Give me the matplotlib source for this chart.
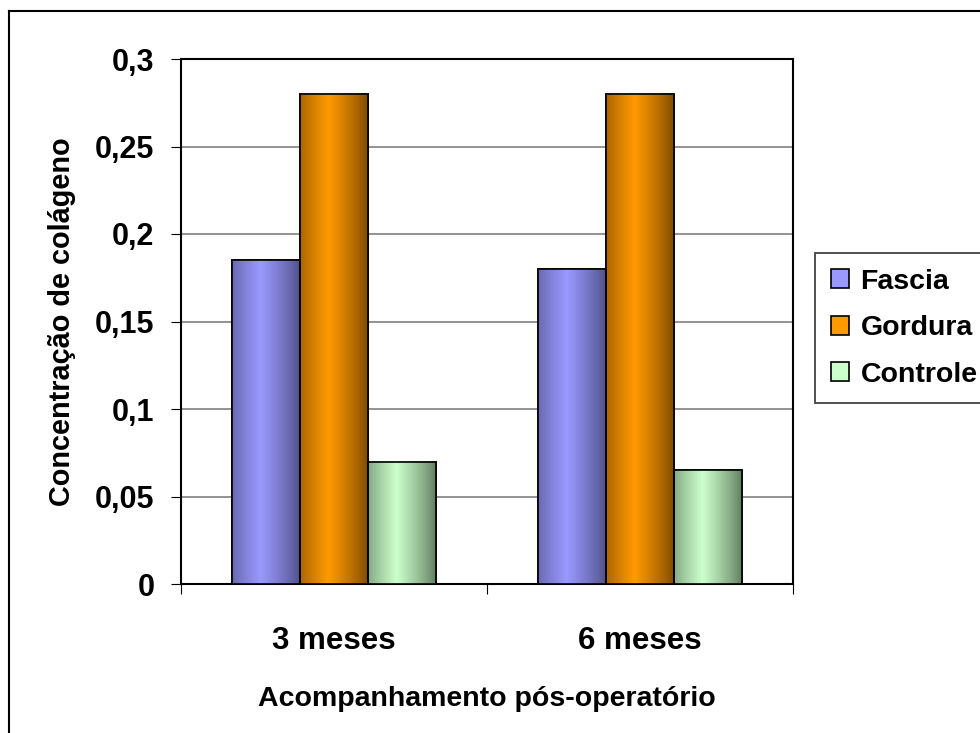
import numpy as np
import matplotlib
matplotlib.use("Agg")
import matplotlib.pyplot as plt
from matplotlib.colors import LinearSegmentedColormap
from matplotlib.patches import Rectangle

categories = ["3 meses", "6 meses"]
series_names = ["Fascia", "Gordura", "Controle"]
fascia = [0.185, 0.18]
gordura = [0.28, 0.28]
controle = [0.07, 0.065]
yticks = [0, 0.05, 0.1, 0.15, 0.2, 0.25, 0.3]
ytick_labels = ["0", "0,05", "0,1", "0,15", "0,2", "0,25", "0,3"]

base_colors = ["#9999FF", "#FF9900", "#CCFFCC"]
dark_colors = ["#4F4F85", "#7A4900", "#5E7A5E"]

plt.rcParams['font.family'] = ['Liberation Sans', 'DejaVu Sans']
plt.rcParams['font.weight'] = 'bold'

fig = plt.figure(figsize=(9.8, 7.33), dpi=100)
W, H = 980, 733
ax = fig.add_axes([181 / W, 1 - 584 / H, (793 - 181) / W, (584 - 59) / H])

# outer chart border (left and top visible)
fig.add_artist(plt.Line2D([9 / W, 9 / W], [0, 1 - 11 / H], transform=fig.transFigure, color="black", lw=1.5))
fig.add_artist(plt.Line2D([9 / W, 1], [1 - 11 / H, 1 - 11 / H], transform=fig.transFigure, color="black", lw=1.5))

x = np.arange(len(categories))
width = 0.222
values = [fascia, gordura, controle]
prof = np.linspace(0, 1, 200)
shade = np.clip(1 - np.abs(prof - 0.42) / 0.58, 0, 1) ** 0.8
grad = shade[np.newaxis, :]

for i, (vals, bc, dc) in enumerate(zip(values, base_colors, dark_colors)):
    cmap = LinearSegmentedColormap.from_list(f"c{i}", [dc, bc])
    bars = ax.bar(x + (i - 1) * width, vals, width, color=bc, edgecolor="black", lw=1.2,
                  label=series_names[i], zorder=3)
    for b in bars:
        bx, by, bw, bh = b.get_x(), b.get_y(), b.get_width(), b.get_height()
        ax.imshow(grad, cmap=cmap, extent=(bx, bx + bw, by, by + bh), aspect="auto",
                  zorder=3.5, interpolation="bilinear", vmin=0, vmax=1)
        ax.add_patch(Rectangle((bx, by), bw, bh, fill=False, edgecolor="black", lw=1.2, zorder=4))

ax.set_xlim(-0.5, 1.5)
ax.set_ylim(0, 0.3)
ax.set_yticks(yticks)
ax.set_yticklabels(ytick_labels, fontsize=22, fontweight="bold")
ax.set_xticks([-0.5, 0.5, 1.5], minor=False)
ax.set_xticklabels(["", "", ""])
ax.set_xticks(x, minor=True)
ax.set_xticklabels(categories, minor=True, fontsize=22.5, fontweight="bold")
ax.tick_params(axis="x", which="minor", length=0, pad=30)
ax.tick_params(axis="x", which="major", length=7, direction="out", color="black")
ax.tick_params(axis="y", length=7, direction="out", pad=12)
ax.grid(axis="y", color="#808080", lw=1.2, zorder=0)
for s in ["left", "bottom", "top", "right"]:
    ax.spines[s].set_color("black")
    ax.spines[s].set_linewidth(1.5)
ax.set_xlabel("Acompanhamento pós-operatório", fontsize=20.5, fontweight="bold", labelpad=22)
ax.set_ylabel("Concentração de colágeno", fontsize=20.8, fontweight="bold", labelpad=14)

leg = ax.legend(loc="upper left", bbox_to_anchor=(815 / W, 1 - 253 / H), bbox_transform=fig.transFigure,
                frameon=True, fancybox=False, edgecolor="black", fontsize=20.5,
                handlelength=0.65, handleheight=0.65, handletextpad=0.4, labelspacing=0.72,
                borderpad=0.55, borderaxespad=0)
leg.get_frame().set_linewidth(1.2)

fig.savefig("out.png", dpi=100)
